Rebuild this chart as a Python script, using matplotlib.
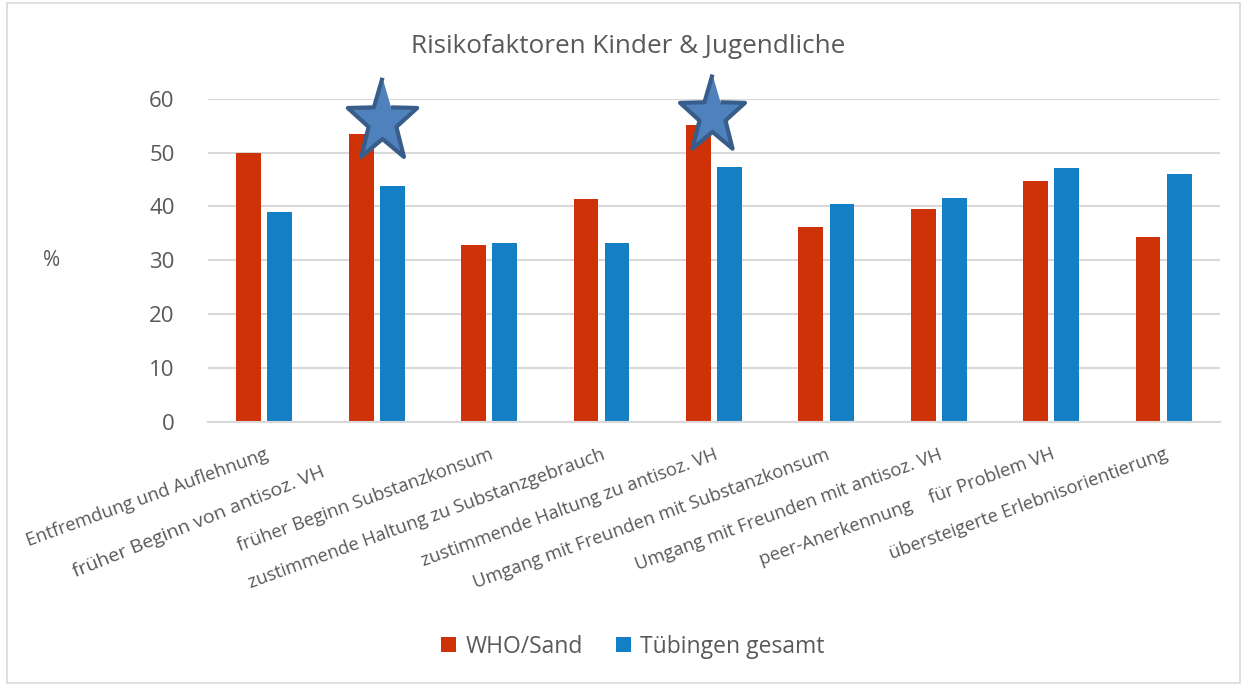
import numpy as np
import matplotlib
matplotlib.use("Agg")
import matplotlib.pyplot as plt
from matplotlib.patches import Rectangle
from matplotlib.transforms import ScaledTranslation

plt.rcParams['font.family'] = ['Open Sans', 'DejaVu Sans']

categories = ["Entfremdung und Auflehnung",
              "früher Beginn von antisoz. VH",
              "früher Beginn Substanzkonsum",
              "zustimmende Haltung zu Substanzgebrauch",
              "zustimmende Haltung zu antisoz. VH",
              "Umgang mit Freunden mit Substanzkonsum",
              "Umgang mit Freunden mit antisoz. VH",
              "peer-Anerkennung    für Problem VH",
              "übersteigerte Erlebnisorientierung"]
who_sand = [50.0, 53.4, 32.8, 41.3, 55.1, 36.2, 39.6, 44.8, 34.4]
tuebingen = [39.0, 43.8, 33.2, 33.2, 47.4, 40.4, 41.6, 47.1, 46.0]

red = '#CF3206'
blue = '#1380C6'
grey = '#595959'

# etwas gestreckter Stern wie in PowerPoint
ang = np.pi / 2 + np.arange(10) * np.pi / 5
rad = np.where(np.arange(10) % 2 == 0, 1.0, 0.40)
star = list(zip(rad * np.cos(ang), 1.2 * rad * np.sin(ang)))

fig = plt.figure(figsize=(12.46, 6.86), dpi=100)
fig.patches.append(Rectangle((0.006, 0.005), 0.989, 0.99, transform=fig.transFigure,
                             fill=False, edgecolor='#D9D9D9', lw=1.2))
ax = fig.add_axes([0.167, 0.385, 0.812, 0.471])

x = np.arange(len(categories))
w = 0.22
ax.bar(x - 0.138, who_sand, w, color=red, label="WHO/Sand", zorder=2)
ax.bar(x + 0.138, tuebingen, w, color=blue, label="Tübingen gesamt", zorder=2)

# Sterne als Markierung (Kategorie 2 und 5)
ax.plot([1.048], [55.9], marker=star, ls='none', markersize=63,
        markerfacecolor='#4F81BD', markeredgecolor='#385D8A',
        markeredgewidth=3, zorder=3, clip_on=False)
ax.plot([3.984], [57.0], marker=star, ls='none', markersize=59,
        markerfacecolor='#4F81BD', markeredgecolor='#385D8A',
        markeredgewidth=3, zorder=3, clip_on=False)

ax.set_xlim(-0.5, len(categories) - 0.5)
ax.set_ylim(0, 60)
ax.set_yticks(range(0, 61, 10))
ax.yaxis.grid(True, color='#D9D9D9', lw=1.5, zorder=0)
for s in ['top', 'right', 'left']:
    ax.spines[s].set_visible(False)
ax.spines['bottom'].set_color('#D9D9D9')
ax.spines['bottom'].set_linewidth(1.5)
ax.tick_params(axis='both', length=0, colors=grey)
ax.tick_params(axis='y', labelsize=16, pad=24)

ax.set_xticks(x)
ax.set_xticklabels(categories, rotation=20, ha='right', rotation_mode='anchor',
                   fontsize=13.2, color=grey)
ax.tick_params(axis='x', pad=17)
lab = ax.get_xticklabels()[1]
lab.set_fontsize(14)
lab.set_rotation(22)
lab.set_transform(lab.get_transform() + ScaledTranslation(-0.56, -0.18, fig.dpi_scale_trans))

ax.set_ylabel("%", rotation=0, fontsize=15, color=grey, labelpad=70, va='center')
fig.text(0.504, 0.932, "Risikofaktoren Kinder & Jugendliche", fontsize=18.8,
         color=grey, ha='center', va='center')

fig.legend(loc='lower center', bbox_to_anchor=(0.508, 0.01), ncol=2, frameon=False,
           fontsize=16.5, handlelength=0.65, handleheight=0.65, columnspacing=1.45,
           handletextpad=0.4, labelcolor=grey)

fig.savefig("out.png", dpi=100)
